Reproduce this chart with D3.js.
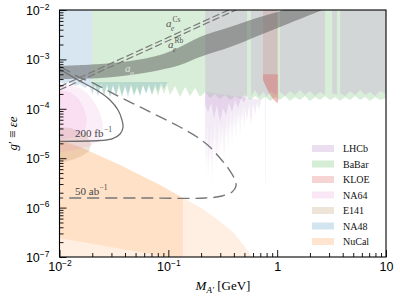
<!DOCTYPE html>
<html>
<head>
<meta charset="utf-8">
<script src="https://cdn.jsdelivr.net/npm/d3@7"></script>
<style>
    body { margin: 0; background: #fff; }
    svg { display: block; font-family: "Liberation Serif", "DejaVu Serif", serif; }
</style>
</head>
<body>
<div id="chart"></div>
<script>
/* * * * * * * * * * * * * *
*   dark photon limits     *
* * * * * * * * * * * * * */

// ---- data: mass M_A' in GeV, coupling g' ----
const massMajor = [0.01, 0.1, 1, 10];
const massLabels = [["10", "−2"], ["10", "−1"], ["1", ""], ["10", ""]];
const couplingMajor = [1e-7, 1e-6, 1e-5, 1e-4, 1e-3, 1e-2];
const couplingLabels = ["−7", "−6", "−5", "−4", "−3", "−2"];

const legendNames = ["LHCb", "BaBar", "KLOE", "NA64", "E141", "NA48", "NuCal"];

// lower edges of the regions that are open to the top
const na48Lower = [[0.01,3.49e-4],[0.0112,3.18e-4],[0.0125,3.49e-4],[0.0139,2.9e-4],[0.0154,3.18e-4],[0.0172,2.64e-4],
    [0.0187,3.03e-4],[0.02,1.9e-4],[0.0212,2.9e-4],[0.0226,1.73e-4],[0.0241,3.03e-4],[0.0256,1.82e-4],[0.0273,3.18e-4],
    [0.0291,1.66e-4],[0.031,2.9e-4],[0.0331,1.73e-4],[0.0352,3.33e-4],[0.0375,1.82e-4],[0.04,2.76e-4],[0.0426,1.66e-4],
    [0.0454,3.18e-4],[0.0484,1.9e-4],[0.0516,2.9e-4],[0.0549,1.73e-4],[0.0585,3.03e-4],[0.0624,2.0e-4],[0.0665,2.9e-4],
    [0.0708,1.9e-4],[0.0755,3.18e-4],[0.0804,2.19e-4],[0.0857,3.33e-4],[0.0913,2.52e-4],[0.0973,3.4e-4],[0.1,3.4e-4]];
const na48Top = 3.5e-4;   // above this NA48 is hidden under BaBar

const babarLower = [[0.02,2.19e-4],[0.0212,3.18e-4],[0.0226,2.0e-4],[0.0241,3.33e-4],[0.0256,1.9e-4],[0.0273,2.9e-4],
    [0.0291,1.82e-4],[0.031,3.18e-4],[0.0331,1.9e-4],[0.0352,2.76e-4],[0.0375,1.73e-4],[0.04,3.03e-4],[0.0426,2.0e-4],
    [0.0454,2.9e-4],[0.0484,1.82e-4],[0.0516,2.64e-4],[0.0549,1.9e-4],[0.0585,3.03e-4],[0.0624,2.09e-4],[0.0665,3.18e-4],
    [0.0708,1.9e-4],[0.0755,2.76e-4],[0.0804,1.82e-4],[0.0857,2.9e-4],[0.0913,2.0e-4],[0.0973,3.03e-4],[0.1036,1.9e-4],
    [0.1152,2.9e-4],[0.128,1.73e-4],[0.1424,2.76e-4],[0.158,1.82e-4],[0.176,2.64e-4],[0.195,1.73e-4],[0.218,2.19e-4],
    [0.241,1.66e-4],[0.268,2.0e-4],[0.298,1.58e-4],[0.331,1.9e-4],[0.369,1.51e-4],[0.41,1.82e-4],[0.456,1.58e-4],
    [0.507,1.9e-4],[0.564,1.51e-4],[0.628,1.82e-4],[0.697,1.51e-4],[0.776,1.73e-4],[0.863,1.44e-4],[0.957,1.73e-4],
    [1.06,1.51e-4],[1.18,1.82e-4],[1.31,1.44e-4],[1.46,1.73e-4],[1.62,1.51e-4],[1.8,1.82e-4],[2.0,1.44e-4],
    [2.23,1.73e-4],[2.48,1.51e-4],[2.75,1.82e-4],[3.06,1.51e-4],[3.41,1.73e-4],[3.79,1.44e-4],[4.21,1.73e-4],
    [4.68,1.51e-4],[5.2,1.82e-4],[5.78,1.51e-4],[6.43,1.73e-4],[7.14,1.44e-4],[7.94,1.73e-4],[8.83,1.51e-4],[10,1.66e-4]];

const lhcbSegments = [
    [[0.218,1.19e-4],[0.2318,8.6e-5],[0.247,1.31e-4],[0.263,6.5e-5],[0.28,1.19e-4],[0.298,5.4e-5],[0.318,1.04e-4],
     [0.339,7.5e-5],[0.361,1.31e-4],[0.385,8.6e-5],[0.41,1.51e-4],[0.437,1.04e-4],[0.466,1.66e-4],[0.496,1.31e-4],[0.529,1.9e-4]],
    [[0.575,1.82e-4],[0.628,2.4e-4],[0.682,1.73e-4],[0.742,2.19e-4],[0.808,1.82e-4],[0.879,2.29e-4],[0.957,1.9e-4],[1.0,2.09e-4]],
    [[1.06,2.19e-4],[1.18,1.82e-4],[1.31,2.29e-4],[1.46,1.9e-4],[1.62,2.4e-4],[1.8,1.9e-4],[2.0,2.29e-4],[2.23,1.82e-4],
     [2.48,2.19e-4],[2.75,1.9e-4]],
    [[3.2,2.09e-4],[3.55,1.9e-4]],
    [[3.79,2.09e-4],[4.21,1.82e-4],[4.68,2.29e-4],[5.2,1.9e-4],[5.78,2.4e-4],[6.43,1.9e-4],[7.14,2.19e-4],[7.94,1.82e-4],
     [8.83,2.29e-4],[10,2.0e-4]]
];

// the pale LHCb spikes below the main block
const lhcbSpikes = [[0.2175,2.2e-4],[0.2175,3.7e-5],[0.2222,5.8e-6],[0.2269,5.9e-5],[0.2317,3.62e-6],[0.2367,2.33e-5],
    [0.2417,7.3e-6],[0.2469,4.7e-5],[0.2521,2.87e-6],[0.2575,2.95e-5],[0.263,1.46e-5],[0.2686,5.9e-5],[0.2744,5.8e-6],
    [0.2802,3.7e-5],[0.2862,9.2e-6],[0.2924,7.5e-5],[0.2986,1.16e-5],[0.305,4.7e-5],[0.3115,1.85e-5],[0.3181,5.9e-5],
    [0.3249,7.3e-6],[0.3319,4.7e-5],[0.339,2.33e-5],[0.3462,7.5e-5],[0.3536,1.46e-5],[0.3612,5.9e-5],[0.3689,2.95e-5],
    [0.3768,9.5e-5],[0.3848,1.85e-5],[0.3931,7.5e-5],[0.4015,3.7e-5],[0.4101,9.5e-5],[0.4188,2.33e-5],[0.4278,8.6e-5],
    [0.4369,4.7e-5],[0.4463,1.04e-4],[0.456,2.95e-5],[0.4657,9.5e-5],[0.4757,5.4e-5],[0.4859,1.19e-4],[0.4963,3.7e-5],
    [0.507,1.04e-4],[0.529,5.9e-5],[0.5517,1.19e-4],[0.5756,4.7e-5],[0.6005,1.31e-4],[0.6264,7.5e-5],[0.6535,1.37e-4],
    [0.6819,9.5e-5],[0.7112,1.51e-4],[0.742,1.51e-4]];
const lhcbNeedle = [[0.772,2e-4],[0.774,3.2e-6],[0.781,3.2e-6],[0.783,2e-4]];

const kloeLower = [[0.742,3.83e-4],[0.776,3.03e-4],[0.808,2.52e-4],[0.842,2.09e-4],[0.879,1.82e-4],[0.917,1.58e-4],
    [0.957,1.44e-4],[1.0,1.31e-4],[1.02,1.37e-4]];
const kloeCoreTop = 5e-4;

// closed contours
const na64Outer = [[0.01,3.18e-4],[0.0125,3.03e-4],[0.0154,2.64e-4],[0.0183,2.0e-4],[0.0212,1.31e-4],[0.0236,8.2e-5],
    [0.0251,4.92e-5],[0.0246,3.09e-5],[0.0226,2.23e-5],[0.0191,1.77e-5],[0.0139,1.46e-5],[0.01,1.34e-5]];
const na64Inner = [[0.01,2.4e-4],[0.0125,2.19e-4],[0.0148,1.66e-4],[0.0168,1.04e-4],[0.0179,5.9e-5],[0.0172,3.7e-5],
    [0.0148,2.69e-5],[0.01,2.33e-5]];
const e141 = [[0.01,4.28e-5],[0.0125,4.1e-5],[0.0154,3.55e-5],[0.0179,2.81e-5],[0.0195,1.94e-5],[0.0187,1.4e-5],
    [0.0161,1.11e-5],[0.013,9.2e-6],[0.01,8.0e-6]];
const nucalUpper = [[0.01,2.33e-5],[0.0154,1.69e-5],[0.0236,1.11e-5],[0.036,7.3e-6],[0.0549,4.57e-6],[0.0839,2.87e-6],
    [0.1365,1.56e-6],[0.195,1.03e-6],[0.268,6.2e-7],[0.394,3.2e-7],[0.507,1.59e-7],[0.587,1e-7],[0.62,5e-8]];
const nucalLowerA = [[0.1365,8.8e-8],[0.01,2.43e-7]];
const nucalLowerB = [[0.01,5e-8]];

// g-2 band and a_e lines
const amuUpper = [[0.01,7.35e-4],[0.0236,8.07e-4],[0.0445,9.3e-4],[0.0839,1.23e-3],[0.128,1.78e-3],[0.195,2.84e-3],
    [0.369,4.53e-3],[0.697,7.2e-3],[1.13,1.0e-2],[1.6,1.45e-2]];
const amuLower = [[0.01,4.0e-4],[0.0236,4.2e-4],[0.0445,4.83e-4],[0.0839,6.1e-4],[0.128,7.7e-4],[0.195,1.12e-3],
    [0.369,1.78e-3],[0.697,3.12e-3],[1.31,5.46e-3],[2.59,1.0e-2],[3.5,1.35e-2]];
const aeCs = [[0.01,2.8e-4],[0.4,1.12e-2]];
const aeRb = [[0.01,2.4e-4],[0.45,1.08e-2]];

// projected reaches
const reach200fb = [[0.01,6.4e-4],[0.0148,3.83e-4],[0.0226,2.29e-4],[0.0291,1.51e-4],[0.0345,9.46e-5],[0.0375,5.93e-5],
    [0.0384,4.28e-5],[0.036,3.09e-5],[0.0304,2.45e-5],[0.0236,2.28e-5],[0.01,2.2e-5]];
const reach50ab = [[0.01,7.35e-4],[0.0139,4.83e-4],[0.0221,3.03e-4],[0.036,1.73e-4],[0.0549,1.09e-4],[0.0839,6.83e-5],
    [0.128,4.28e-5],[0.1836,2.69e-5],[0.241,1.69e-5],[0.298,1.01e-5],[0.354,6.3e-6],[0.402,3.97e-6],[0.419,2.74e-6],
    [0.385,2.07e-6],[0.312,1.72e-6],[0.218,1.56e-6],[0.0679,1.56e-6],[0.01,1.56e-6]];

// ---- styles ----
const fills = {LHCb: "#be91cd", BaBar: "#2ca02c", KLOE: "#d62728", NA64: "#e377c2",
               E141: "#aa783c", NA48: "#1f77b4", NuCal: "#ff7f0e"};
const alphas = {LHCb: 0.26, BaBar: 0.18, KLOE: 0.12, NA64: 0.12, E141: 0.2, NA48: 0.18, NuCal: 0.12};
const legendAlphas = {LHCb: 0.3, BaBar: 0.2, KLOE: 0.2, NA64: 0.18, E141: 0.2, NA48: 0.2, NuCal: 0.2};

// ---- chart ----
const svg = d3.select("#chart").append("svg")
    .attr("width", 400)
    .attr("height", 300);

const x = d3.scaleLog().domain([0.01, 10]).range([59.5, 386]);
const y = d3.scaleLog().domain([1e-7, 1e-2]).range([257, 10]);
const gTop = y.domain()[1] * 3;

svg.append("clipPath").attr("id", "plot-clip")
    .append("rect")
    .attr("x", x.range()[0]).attr("y", y.range()[1])
    .attr("width", x.range()[1] - x.range()[0])
    .attr("height", y.range()[0] - y.range()[1]);

const plot = svg.append("g").attr("clip-path", "url(#plot-clip)");

const poly = d3.line().x(d => x(d[0])).y(d => y(d[1])).curve(d3.curveLinearClosed);
const smooth = d3.line().x(d => x(d[0])).y(d => y(d[1])).curve(d3.curveCatmullRom);

// close an open lower edge up to a given top (default: above the frame)
function closeTo(pts, top) {
    top = top || gTop;
    return [[pts[0][0], top], ...pts, [pts[pts.length - 1][0], top]];
}

function region(pts, name, op) {
    plot.append("path")
        .attr("d", poly(pts))
        .attr("fill", fills[name])
        .attr("fill-opacity", op === undefined ? alphas[name] : op);
}

// NuCal: two overlapping contours
region([...nucalUpper.filter(d => d[0] <= 0.1365), ...nucalLowerA], "NuCal");
region([...nucalUpper, ...nucalLowerB], "NuCal");
region(e141, "E141");
region(na64Outer, "NA64");
region(na64Inner, "NA64");
// NA48: full height below 20 MeV, only the spiky strip under BaBar above it
region([[0.01, gTop], [0.02, gTop], [0.02, na48Top], [0.1, na48Top], ...na48Lower.slice().reverse()], "NA48");
region(closeTo(babarLower), "BaBar");
lhcbSegments.forEach(seg => region(closeTo(seg), "LHCb"));
region(lhcbSpikes, "LHCb", 0.18);
region(lhcbNeedle, "LHCb", 0.18);
region(closeTo(kloeLower), "KLOE");
region(closeTo(kloeLower, kloeCoreTop), "KLOE", 0.22);

// g-2 muon band
plot.append("path")
    .attr("d", smooth(amuUpper) + smooth(amuLower.slice().reverse()).replace(/^M/, "L") + "Z")
    .attr("fill", "#5a5a5a")
    .attr("fill-opacity", 0.5);

// electron g-2 lines
[aeCs, aeRb].forEach(line => {
    plot.append("path")
        .attr("d", smooth(line))
        .attr("fill", "none")
        .attr("stroke", "#7a7a7a")
        .attr("stroke-width", 1.2)
        .attr("stroke-dasharray", "7.5,3");
});

plot.append("path")
    .attr("d", smooth(reach200fb))
    .attr("fill", "none")
    .attr("stroke", "#6e6e6e")
    .attr("stroke-width", 1.3);

plot.append("path")
    .attr("d", smooth(reach50ab))
    .attr("fill", "none")
    .attr("stroke", "#777")
    .attr("stroke-width", 1.4)
    .attr("stroke-dasharray", "12,6");

// ---- in-plot labels ----
function mathLabel(px, py, main, sub, sup, color, opts) {
    opts = opts || {};
    const g = svg.append("g").attr("fill", color);
    g.append("text").attr("x", px).attr("y", py)
        .attr("font-size", 11).attr("font-style", opts.upright ? "normal" : "italic")
        .text(main);
    if (sub) g.append("text").attr("x", px + opts.subDx).attr("y", py + 3.5)
        .attr("font-size", 7.5).attr("font-style", "italic").text(sub);
    if (sup) g.append("text").attr("x", px + opts.supDx).attr("y", py - 5.5)
        .attr("font-size", 7.5).text(sup);
}

mathLabel(166, 27, "a", "e", "Cs", "#555", {subDx: 5, supDx: 6.5});
mathLabel(168, 48, "a", "e", "Rb", "#555", {subDx: 5, supDx: 6.5});
mathLabel(125, 72, "a", "μ", null, "#dfe5e0", {subDx: 5});
mathLabel(75, 137, "200 fb", null, "−1", "#444", {upright: true, supDx: 29});
mathLabel(75, 195, "50 ab", null, "−1", "#444", {upright: true, supDx: 24.5});

// ---- axes ----
function minorTicks(major) {
    const out = [];
    major.slice(0, -1).forEach(d => { for (let k = 2; k <= 9; k++) out.push(k * d); });
    return out;
}

const xAxisG = svg.append("g")
    .attr("transform", "translate(0," + y.range()[0] + ")")
    .call(d3.axisBottom(x).tickValues(massMajor).tickSize(-7).tickFormat(""));
svg.append("g")
    .attr("transform", "translate(0," + y.range()[0] + ")")
    .call(d3.axisBottom(x).tickValues(minorTicks(massMajor)).tickSize(-4).tickFormat(""));

const yAxisG = svg.append("g")
    .attr("transform", "translate(" + x.range()[0] + ",0)")
    .call(d3.axisLeft(y).tickValues(couplingMajor).tickSize(-7).tickFormat(""));
svg.append("g")
    .attr("transform", "translate(" + x.range()[0] + ",0)")
    .call(d3.axisLeft(y).tickValues(minorTicks(couplingMajor)).tickSize(-4).tickFormat(""));

svg.selectAll(".domain").remove();
svg.selectAll(".tick line").attr("stroke", "#000").attr("stroke-width", 0.9);

xAxisG.selectAll(".tick").each(function(d, i) {
    const t = d3.select(this).append("text")
        .attr("y", 14).attr("fill", "#000").attr("font-size", 12.5)
        .attr("text-anchor", "middle");
    t.append("tspan").text(massLabels[i][0]);
    if (massLabels[i][1]) t.append("tspan").attr("dy", -5.5).attr("font-size", 8.5).text(massLabels[i][1]);
});

yAxisG.selectAll(".tick").each(function(d, i) {
    const t = d3.select(this).append("text")
        .attr("x", -10).attr("y", 4.5).attr("fill", "#000").attr("font-size", 12.5)
        .attr("text-anchor", "end");
    t.append("tspan").text("10");
    t.append("tspan").attr("dy", -5.5).attr("font-size", 8.5).text(couplingLabels[i]);
});

// frame
svg.append("rect")
    .attr("x", x.range()[0]).attr("y", y.range()[1])
    .attr("width", x.range()[1] - x.range()[0])
    .attr("height", y.range()[0] - y.range()[1])
    .attr("fill", "none").attr("stroke", "#000").attr("stroke-width", 1.1);

// axis titles
const xt = svg.append("text")
    .attr("x", 223).attr("y", 290).attr("text-anchor", "middle")
    .attr("font-size", 13).attr("fill", "#000");
xt.append("tspan").attr("font-style", "italic").text("M");
xt.append("tspan").attr("font-style", "italic").attr("font-size", 9).attr("dy", 3).text("A′");
xt.append("tspan").attr("dy", -3).text(" [GeV]");

const yt = svg.append("text")
    .attr("transform", "translate(17," + (y.range()[0] + y.range()[1]) / 2 + ") rotate(-90)")
    .attr("text-anchor", "middle").attr("font-size", 13).attr("fill", "#000");
yt.append("tspan").attr("font-style", "italic").text("g");
yt.append("tspan").text("′ ≡ ");
yt.append("tspan").attr("font-style", "italic").text("εe");

// ---- legend ----
const legend = svg.append("g").attr("transform", "translate(312,148.5)");
legendNames.forEach((name, i) => {
    const row = legend.append("g").attr("transform", "translate(0," + i * 15.5 + ")");
    row.append("rect")
        .attr("x", 0).attr("y", -3.5).attr("width", 22).attr("height", 7)
        .attr("fill", fills[name]).attr("fill-opacity", legendAlphas[name]);
    row.append("text")
        .attr("x", 31).attr("y", 0).attr("dy", "0.35em")
        .attr("font-size", 10).attr("fill", "#111")
        .text(name);
});
</script>
</body>
</html>
